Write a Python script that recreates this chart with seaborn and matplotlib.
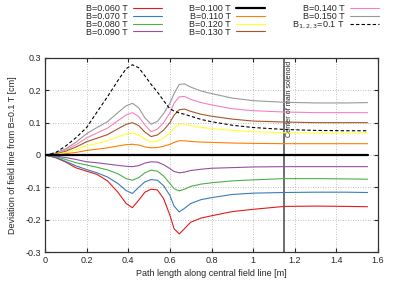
import matplotlib
matplotlib.use("Agg")
import matplotlib.pyplot as plt
import seaborn as sns
import numpy as np

# path length along central field line [m]
x = [0, 0.05, 0.1, 0.15, 0.2, 0.25, 0.3, 0.35, 0.39, 0.42, 0.45, 0.48, 0.51, 0.54,
     0.57, 0.6, 0.62, 0.645, 0.67, 0.7, 0.75, 0.8, 0.9, 1.0, 1.15, 1.3, 1.45, 1.55]

b060 = [0, -.008, -.022, -.04, -.05, -.06, -.08, -.115, -.15, -.163, -.14, -.115, -.106, -.108,
        -.135, -.186, -.228, -.244, -.228, -.208, -.195, -.188, -.175, -.168, -.159, -.158, -.159, -.16]
b070 = [0, -.007, -.02, -.034, -.045, -.055, -.068, -.088, -.11, -.119, -.1, -.083, -.076, -.078,
        -.095, -.125, -.158, -.176, -.165, -.15, -.138, -.132, -.122, -.118, -.116, -.115, -.115, -.116]
b080 = [0, -.005, -.014, -.024, -.031, -.038, -.046, -.058, -.073, -.078, -.07, -.055, -.047, -.05,
        -.065, -.088, -.104, -.111, -.106, -.097, -.09, -.086, -.08, -.077, -.073, -.073, -.074, -.075]
b090 = [0, -.003, -.008, -.014, -.021, -.024, -.028, -.032, -.035, -.036, -.033, -.025, -.021, -.022,
        -.03, -.042, -.051, -.055, -.053, -.048, -.044, -.041, -.039, -.037, -.036, -.036, -.036, -.036]
b100 = [0] * 28
b110 = [0, .001, .004, .008, .014, .018, .022, .028, .032, .033, .031, .025, .022, .023,
        .027, .033, .039, .044, .044, .042, .04, .039, .037, .036, .035, .035, .035, .035]
b120 = [0, .003, .008, .017, .028, .036, .044, .056, .065, .067, .062, .049, .04, .043,
        .053, .068, .083, .095, .096, .091, .085, .082, .076, .072, .069, .068, .068, .069]
b130 = [0, .004, .012, .025, .041, .052, .063, .081, .095, .1, .091, .071, .057, .062,
        .077, .1, .123, .14, .142, .135, .126, .12, .111, .105, .102, .1, .1, .1]
b140 = [0, .005, .015, .032, .053, .068, .083, .106, .124, .131, .119, .093, .072, .08,
        .1, .13, .16, .18, .181, .172, .162, .155, .143, .137, .133, .131, .131, .131]
b150 = [0, .006, .019, .04, .066, .085, .103, .131, .152, .16, .146, .115, .095, .104,
        .128, .16, .19, .218, .22, .21, .198, .19, .176, .168, .163, .161, .161, .162]
b123 = [0, .007, .028, .054, .085, .133, .18, .23, .267, .279, .27, .245, .218, .195,
        .168, .143, .136, .13, .126, .12, .11, .103, .092, .085, .079, .076, .075, .075]

series = [b060, b070, b080, b090, b100, b110, b120, b130, b140, b150]
labels = ["B=0.060 T", "B=0.070 T", "B=0.080 T", "B=0.090 T", "B=0.100 T",
          "B=0.110 T", "B=0.120 T", "B=0.130 T", "B=0.140 T", "B=0.150 T"]

sns.set_style("ticks")
plt.rcParams['font.family'] = ['Liberation Sans', 'DejaVu Sans']
plt.rcParams['axes.unicode_minus'] = False

set1 = sns.color_palette("Set1", 9)
colors = set1[:4] + [(0, 0, 0)] + set1[4:]

fig = plt.figure(figsize=(3.95, 2.82), dpi=100)
ax = fig.add_axes([45 / 395, 1 - 252 / 282, 333 / 395, 194 / 282])

for vals, lab, c in zip(series, labels, colors):
    lw = 1.6 if lab == "B=0.100 T" else 0.8
    sns.lineplot(x=x, y=vals, ax=ax, color=c, lw=lw, label=lab, zorder=3 if lw > 1 else 2)
sns.lineplot(x=x, y=b123, ax=ax, color="black", lw=0.8, linestyle=(0, (3, 2)),
             label="B$_{1,2,3}$=0.1 T", zorder=2)

ax.axvline(1.15, color="#555555", lw=1.2, zorder=1)
ax.text(1.16, 0.29, "Center of main solenoid", rotation=90, fontsize=5.2,
        va="top", ha="left")

ax.set_xlim(0, 1.6)
ax.set_ylim(-0.3, 0.3)
ax.set_xticks(np.arange(0, 1.61, 0.2))
ax.set_yticks(np.arange(-0.3, 0.31, 0.1))
ax.set_xticklabels(["0", "0.2", "0.4", "0.6", "0.8", "1", "1.2", "1.4", "1.6"])
ax.set_yticklabels(["-0.3", "-0.2", "-0.1", "0", "0.1", "0.2", "0.3"])
ax.tick_params(direction="in", top=True, right=True, labelsize=6.5, length=3, width=0.8, pad=3)
ax.grid(True, linestyle=(0, (1, 2)), color="#aaaaaa", lw=0.6)
for s in ax.spines.values():
    s.set_linewidth(0.9)
    s.set_color("#333333")

ax.set_xlabel("Path length along central field line [m]", fontsize=6.5, labelpad=3)
ax.set_ylabel("Deviation of field line from B=0.1 T [cm]", fontsize=6.5, labelpad=6)

h, l = ax.get_legend_handles_labels()
ax.legend_.remove()
fig.legend(h, l, ncol=3, loc="upper center", bbox_to_anchor=(0.589, 1.015),
           frameon=False, fontsize=6.5, markerfirst=False, handlelength=3.2,
           columnspacing=3.0, labelspacing=-0.12, handletextpad=0.6)

fig.savefig("out.png", dpi=100)
